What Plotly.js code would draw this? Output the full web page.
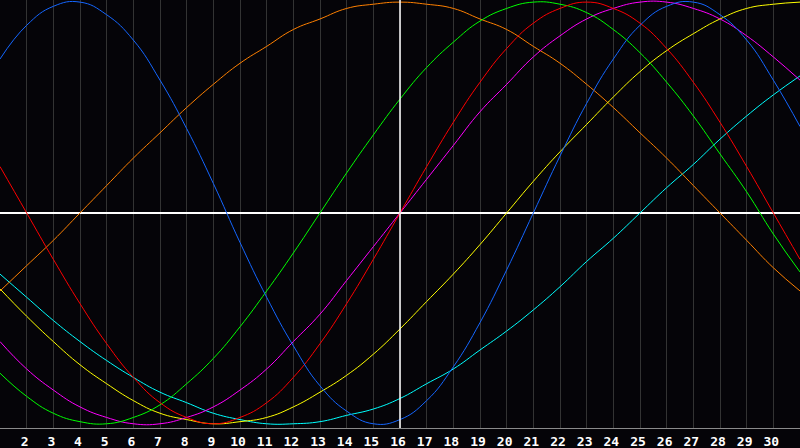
<!DOCTYPE html>
<html>
<head>
<meta charset="utf-8">
<script src="https://cdn.plot.ly/plotly-3.0.1.min.js"></script>
<style>
  html, body { margin: 0; padding: 0; background: #050408; }
  #chart { width: 800px; height: 448px; }
</style>
</head>
<body>
<div id="chart"></div>
<script>
// days of the month shown on the chart
let days = [1,2,3,4,5,6,7,8,9,10,11,12,13,14,15,16,17,18,19,20,21,22,23,24,25,26,27,28,29,30,31]
let dayLabels = ["2","3","4","5","6","7","8","9","10","11","12","13","14","15","16","17","18","19","20","21","22","23","24","25","26","27","28","29","30"]

// cycle values in percent
let physical = [73,89,98,100,94,82,63,40,14,-14,-40,-63,-82,-94,-100,-98,-89,-73,-52,-27,0,27,52,73,89,98,100,94,82,63,41]
let emotional = [22,0,-22,-43,-62,-78,-90,-97,-100,-97,-90,-78,-62,-43,-22,0,22,43,62,78,90,97,100,97,90,78,62,43,22,0,-22]
let intellectual = [-76,-87,-95,-99,-100,-97,-91,-81,-69,-54,-37,-19,0,19,37,54,69,81,91,97,100,99,95,87,76,62,46,28,10,-10,-28]
let intuitive = [-61,-74,-84,-92,-97,-100,-100,-97,-92,-84,-74,-61,-48,-32,-16,0,16,32,48,61,74,84,92,97,100,100,97,92,84,74,63]
let aesthetic = [-36,-49,-61,-72,-81,-89,-95,-98,-100,-99,-97,-92,-85,-77,-67,-55,-42,-29,-15,0,15,29,42,55,67,77,85,92,97,99,100]
let awareness = [-37,-25,-13,0,13,26,38,50,61,71,79,87,92,97,99,100,99,97,92,87,79,71,61,50,38,26,13,0,-13,-26,-37]
let spiritual = [-29,-40,-51,-61,-70,-78,-85,-90,-95,-98,-100,-100,-99,-96,-93,-88,-81,-74,-65,-56,-46,-35,-23,-12,0,12,23,35,46,56,65]

let today = 16

function line(y, color){
  return {
    x: days, y: y, type: 'scatter', mode: 'lines',
    line: {color: color, width: 1, shape: 'spline', smoothing: 1.3},
    hoverinfo: 'skip'
  }
}

let data = [
  line(spiritual, '#00ffff'),
  line(awareness, '#ff8000'),
  line(aesthetic, '#ffff00'),
  line(intuitive, '#ff00ff'),
  line(intellectual, '#00ff00'),
  line(emotional, '#ff0000'),
  line(physical, '#1466ff')
]

let layout = {
  width: 800, height: 448,
  margin: {l: 0, r: 0, t: 0, b: 20},
  paper_bgcolor: '#050408',
  plot_bgcolor: '#050408',
  showlegend: false,
  xaxis: {
    range: [1, 31],
    tickvals: dayLabels.map(Number),
    ticktext: dayLabels,
    ticks: '',
    ticklabelshift: -2,
    ticklabelstandoff: 1,
    tickfont: {family: 'DejaVu Sans Mono', size: 13, color: '#ffffff', weight: 'bold'},
    showgrid: true, gridcolor: '#333333', gridwidth: 1,
    zeroline: false,
    showline: true, linecolor: '#8a8a8a', linewidth: 1, mirror: true,
    fixedrange: true
  },
  yaxis: {
    range: [-102, 101],
    showticklabels: false, ticks: '',
    showgrid: false,
    zeroline: true, zerolinecolor: '#ffffff', zerolinewidth: 1.5,
    showline: true, linecolor: '#8a8a8a', linewidth: 1, mirror: true,
    fixedrange: true
  },
  shapes: [
    {type: 'line', xref: 'x', yref: 'paper', x0: today, x1: today, y0: 0, y1: 1,
     line: {color: '#ffffff', width: 1.5}, layer: 'above'}
  ]
}

Plotly.newPlot('chart', data, layout, {displayModeBar: false, staticPlot: true})
</script>
</body>
</html>
